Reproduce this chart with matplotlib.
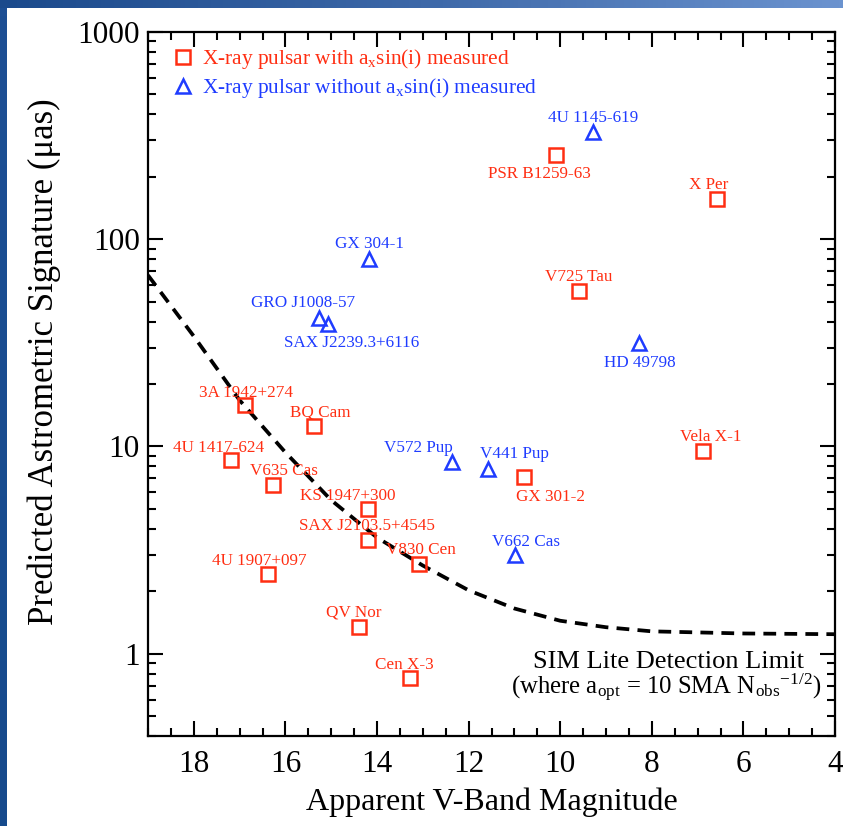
import numpy as np
import matplotlib
matplotlib.use("Agg")
import matplotlib.pyplot as plt
from matplotlib.ticker import MultipleLocator, LogLocator, NullFormatter, FixedLocator

plt.rcParams['font.family'] = ['Liberation Serif', 'DejaVu Serif']
plt.rcParams['mathtext.fontset'] = 'custom'
plt.rcParams['mathtext.rm'] = 'Liberation Serif'
plt.rcParams['mathtext.it'] = 'Liberation Serif:italic'

# X-ray pulsars with a_x sin(i) measured (red squares)
red_names = ['3A 1942+274', 'BQ Cam', '4U 1417-624', 'V635 Cas', 'KS 1947+300',
             'SAX J2103.5+4545', 'V830 Cen', '4U 1907+097', 'QV Nor', 'Cen X-3',
             'GX 301-2', 'Vela X-1', 'V725 Tau', 'PSR B1259-63', 'X Per']
red_mag = [16.89, 15.38, 17.18, 16.28, 14.19, 14.19, 13.08, 16.39, 14.39, 13.29,
           10.79, 6.89, 9.59, 10.09, 6.58]
red_sig = [15.8, 12.5, 8.55, 6.5, 4.96, 3.55, 2.72, 2.43, 1.35, 0.766,
           7.08, 9.46, 56.0, 255.0, 156.0]

# X-ray pulsars without a_x sin(i) measured (blue triangles)
blue_names = ['4U 1145-619', 'GX 304-1', 'GRO J1008-57', 'SAX J2239.3+6116',
              'HD 49798', 'V572 Pup', 'V441 Pup', 'V662 Cas']
blue_mag = [9.28, 14.17, 15.27, 15.07, 8.27, 12.37, 11.58, 10.99]
blue_sig = [329.0, 80.0, 41.5, 39.0, 31.4, 8.37, 7.74, 3.0]

# SIM Lite detection limit curve
lim_mag = [19.0, 18.0, 17.0, 16.0, 15.0, 14.0, 13.0, 12.0, 11.0, 10.0, 9.0, 8.0, 6.0, 4.0]
lim_sig = [67.0, 34.0, 16.7, 9.35, 5.5, 3.63, 2.66, 2.02, 1.65, 1.44, 1.34, 1.28, 1.25, 1.24]

# label offsets (points) relative to each marker
red_off = {'3A 1942+274': (1, 9), 'BQ Cam': (5, 10), '4U 1417-624': (-9, 9),
           'V635 Cas': (8, 10), 'KS 1947+300': (-15, 10), 'SAX J2103.5+4545': (-1, 10),
           'V830 Cen': (1, 10), '4U 1907+097': (-6, 9), 'QV Nor': (-4, 10),
           'Cen X-3': (-4, 9), 'GX 301-2': (19, -14), 'Vela X-1': (6, 10),
           'V725 Tau': (0, 10), 'PSR B1259-63': (-12, -14), 'X Per': (-6, 10)}
blue_off = {'4U 1145-619': (0, 10), 'GX 304-1': (0, 11), 'GRO J1008-57': (-11, 11),
            'SAX J2239.3+6116': (17, -14), 'HD 49798': (0, -14), 'V572 Pup': (-24, 10),
            'V441 Pup': (19, 11), 'V662 Cas': (8, 9)}

red = '#ff2e12'
blue = '#1f3cff'

fig = plt.figure(figsize=(8.43, 8.26), dpi=100)
fig.patch.set_facecolor('white')

# blue slide frame at left and top
fl = fig.add_axes([0, 0, 7/843, 1])
fl.imshow(np.linspace(0, 1, 50).reshape(-1, 1), cmap=matplotlib.colors.LinearSegmentedColormap.from_list('l', ['#1d4f94', '#164a8c']), aspect='auto')
fl.axis('off')
ft = fig.add_axes([0, 1 - 8/826, 1, 8/826])
ft.imshow(np.linspace(0, 1, 200).reshape(1, -1), cmap=matplotlib.colors.LinearSegmentedColormap.from_list('t', ['#1b4a8c', '#3d68a8', '#6b93cf']), aspect='auto')
ft.axis('off')

ax = fig.add_axes([148/843, 1 - 736/826, (835-148)/843, (736-32)/826])
ax.set_yscale('log')
ax.set_xlim(19, 4)
ax.set_ylim(0.4, 1000)

ax.plot(lim_mag, lim_sig, color='black', lw=2.7, dashes=(3.4, 2.2), zorder=2)

ax.plot(red_mag, red_sig, 's', ms=10, mfc='none', mec=red, mew=1.8, ls='none',
        label=r'X-ray pulsar with a$_\mathrm{x}$sin(i) measured', zorder=3)
ax.plot(blue_mag, blue_sig, '^', ms=10, mfc='none', mec=blue, mew=1.8, ls='none',
        label=r'X-ray pulsar without a$_\mathrm{x}$sin(i) measured', zorder=3)

for n, x, y in zip(red_names, red_mag, red_sig):
    ax.annotate(n, (x, y), xytext=red_off[n], textcoords='offset points',
                ha='center', va='center', color=red, fontsize=12.3)
for n, x, y in zip(blue_names, blue_mag, blue_sig):
    ax.annotate(n, (x, y), xytext=blue_off[n], textcoords='offset points',
                ha='center', va='center', color=blue, fontsize=12.3)

ax.text(0.757, 0.105, 'SIM Lite Detection Limit', transform=ax.transAxes,
        ha='center', va='center', fontsize=19)
ax.text(0.755, 0.068, r'(where a$_\mathrm{opt}$ = 10 SMA N$_\mathrm{obs}{}^\mathrm{-1/2}$)',
        transform=ax.transAxes, ha='center', va='center', fontsize=17.8)

leg = ax.legend(loc='upper left', bbox_to_anchor=(0.013, 1.003), frameon=False,
                fontsize=15.4, handlelength=0.8, handletextpad=0.5, labelspacing=0.25,
                borderaxespad=0.4, labelcolor='markeredgecolor', markerscale=0.95)

ax.xaxis.set_major_locator(MultipleLocator(2))
ax.xaxis.set_minor_locator(MultipleLocator(0.5))
ax.yaxis.set_major_locator(FixedLocator([1, 10, 100, 1000]))
ax.yaxis.set_major_formatter(matplotlib.ticker.FixedFormatter(['1', '10', '100', '1000']))
ax.yaxis.set_minor_locator(LogLocator(base=10, subs=np.arange(2, 10)))
ax.yaxis.set_minor_formatter(NullFormatter())
ax.tick_params(which='both', direction='in', top=True, right=True, width=1.5, labelsize=22.5)
ax.tick_params(which='major', length=11)
ax.tick_params(axis='x', which='major', pad=10)
ax.tick_params(axis='y', which='major', pad=6)
ax.tick_params(which='minor', length=6)
for s in ax.spines.values():
    s.set_linewidth(1.6)

ax.set_xlabel('Apparent V-Band Magnitude', fontsize=23, labelpad=6)
ax.set_ylabel(r'Predicted Astrometric Signature (μas)', fontsize=25)
ax.yaxis.set_label_coords(-0.127, 0.531)

fig.savefig('out.png', dpi=100)
